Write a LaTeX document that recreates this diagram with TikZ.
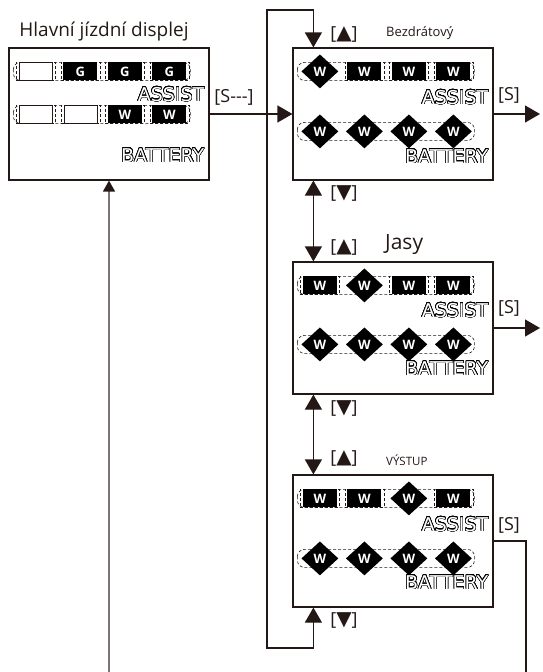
\documentclass[tikz,border=0pt]{standalone}
\usepackage{fontspec}
\setmainfont{Open Sans}
\newfontfamily\symfont{DejaVu Sans}
\newfontfamily\lcdfont{DejaVu Sans}
\usepackage{contour}
\usepackage{tikz}
\usetikzlibrary{arrows.meta,shapes.geometric}
\contourlength{0.55pt}
\contournumber{24}
\definecolor{ink}{HTML}{231815}

% one row of segments: state/label pairs (o = off, g/w = on, d = blinking)
\newcommand{\segrow}[2]{%
  \draw[row_dash] (5,#1-9) rectangle (182,#1+9);
  \foreach \st/\lbl [count=\i] in {#2} {
    \node[slot_\st] at (27.5+44.5*\i-44.5,#1) {};
    \node[seg_\st] at (27.5+44.5*\i-44.5,#1) {\lbl};
  }}
\newcommand{\keyup}{[{\symfont\fontsize{20}{20}\selectfont ▲}]}
\newcommand{\keydn}{[{\symfont\fontsize{20}{20}\selectfont ▼}]}

\begin{document}
\begin{tikzpicture}[x=1pt, y=-1pt, line join=miter]
    \tikzstyle{disp_box} = [rectangle, draw=ink, line width=1.2pt, fill=white, minimum width=200pt, minimum height=132pt, inner sep=0]
    \tikzstyle{row_dash} = [draw=ink, dash pattern=on 3pt off 2pt, line width=0.6pt, rounded corners=7pt]
    \tikzstyle{slot_dash} = [draw=ink, dash pattern=on 3pt off 2pt, line width=0.5pt, minimum width=39pt, minimum height=18pt, inner sep=0]
    \tikzstyle{slot_o} = [slot_dash]
    \tikzstyle{slot_g} = [slot_dash]
    \tikzstyle{slot_w} = [slot_dash]
    \tikzstyle{slot_d} = []
    \tikzstyle{seg_o} = [draw=ink, fill=white, line width=0.8pt, minimum width=33pt, minimum height=18pt, inner sep=0]
    \tikzstyle{seg_g} = [fill=black, text=white, font=\bfseries\fontsize{13}{13}\selectfont, minimum width=34pt, minimum height=18pt, inner sep=0]
    \tikzstyle{seg_w} = [seg_g]
    \tikzstyle{seg_d} = [diamond, fill=black, text=white, font=\bfseries\fontsize{13}{13}\selectfont, minimum width=37pt, minimum height=34pt, inner sep=0]
    \tikzstyle{lcd_word} = [anchor=east, inner sep=0, text=white, font=\lcdfont\fontsize{19}{19}\selectfont]
    \tikzstyle{key_lbl} = [text=ink, inner sep=0, font=\fontsize{18}{18}\selectfont]
    \tikzstyle{title_lbl} = [text=ink, inner sep=0]
    \tikzstyle{flow_edge} = [draw=ink, line width=1.2pt, -{Triangle[length=15pt,width=17pt]}]
    \tikzstyle{both_edge} = [draw=ink, line width=1.2pt, {Triangle[length=15pt,width=17pt]}-{Triangle[length=15pt,width=17pt]}]
    \tikzstyle{plain_edge} = [draw=ink, line width=1.2pt]
    \tikzstyle{back_edge} = [draw=ink!60, line width=1.5pt, -{Triangle[length=11pt,width=12pt,color=ink]}]

    \useasboundingbox (0,0) rectangle (542,672);

    % display boxes
    \node[disp_box] (main) at (109,114) {};
    \node[disp_box] (bezd) at (393,114) {};
    \node[disp_box] (jasy) at (393,328) {};
    \node[disp_box] (vystup) at (393,541) {};

    \node[title_lbl, font=\fontsize{19}{19}\selectfont] (t_main) at (104,32) {Hlavní jízdní displej};
    \node[title_lbl, anchor=west, font=\fontsize{13}{13}\selectfont] (t_bezd) at (386,33) {Bezdrátový};
    \node[title_lbl, anchor=west, font=\fontsize{21}{21}\selectfont] (t_jasy) at (385,245) {Jasy};
    \node[title_lbl, anchor=west, font=\fontsize{11.5}{11.5}\selectfont] (t_vystup) at (386,460) {VÝSTUP};

    % display contents
    \begin{scope}[shift={(main.north west)}]
        \segrow{24}{o/,g/G,g/G,g/G}
        \segrow{67}{o/,o/,w/W,w/W}
        \node[lcd_word] (as_main) at (196,47) {\contour{black}{ASSIST}};
        \node[lcd_word] (ba_main) at (196,108) {\contour{black}{BATTERY}};
    \end{scope}
    \begin{scope}[shift={(bezd.north west)}]
        \segrow{24}{d/W,w/W,w/W,w/W}
        \segrow{84}{d/W,d/W,d/W,d/W}
        \node[lcd_word] (as_bezd) at (196,50) {\contour{black}{ASSIST}};
        \node[lcd_word] (ba_bezd) at (196,109) {\contour{black}{BATTERY}};
    \end{scope}
    \begin{scope}[shift={(jasy.north west)}]
        \segrow{24}{w/W,d/W,w/W,w/W}
        \segrow{83}{d/W,d/W,d/W,d/W}
        \node[lcd_word] (as_jasy) at (196,49) {\contour{black}{ASSIST}};
        \node[lcd_word] (ba_jasy) at (196,107) {\contour{black}{BATTERY}};
    \end{scope}
    \begin{scope}[shift={(vystup.north west)}]
        \segrow{24}{w/W,w/W,d/W,w/W}
        \segrow{84}{d/W,d/W,d/W,d/W}
        \node[lcd_word] (as_vystup) at (196,50) {\contour{black}{ASSIST}};
        \node[lcd_word] (ba_vystup) at (196,108) {\contour{black}{BATTERY}};
    \end{scope}

    % key labels
    \node[key_lbl] (up_bezd) at (344,34) {\keyup};
    \node[key_lbl] (dn_bezd) at (344,193) {\keydn};
    \node[key_lbl] (up_jasy) at (344,247) {\keyup};
    \node[key_lbl] (dn_jasy) at (344,408) {\keydn};
    \node[key_lbl] (up_vystup) at (344,458) {\keyup};
    \node[key_lbl] (dn_vystup) at (344,620) {\keydn};
    \node[key_lbl] (s_main) at (234,97) {[S{-}{-}{-}]};
    \node[key_lbl] (s_bezd) at (509,95) {[S]};
    \node[key_lbl] (s_jasy) at (509,308) {[S]};
    \node[key_lbl] (s_vystup) at (509,525) {[S]};

    % connectors
    \coordinate (loop_top) at (267,10);
    \coordinate (loop_bot) at (267,648);
    \coordinate (s1_end) at (540,114);
    \coordinate (s2_end) at (540,328);
    \coordinate (exit_r) at (526,672);
    \coordinate (exit_l) at (109,672);

    \draw[flow_edge] (main) -- (bezd);
    \draw[both_edge] ([xshift=21pt]vystup.south west) |- (loop_bot) -- (loop_top) -| ([xshift=21pt]bezd.north west);
    \draw[both_edge] ([xshift=21pt]bezd.south west) -- ([xshift=21pt]jasy.north west);
    \draw[both_edge] ([xshift=21pt]jasy.south west) -- ([xshift=21pt]vystup.north west);
    \draw[flow_edge] (bezd) -- (s1_end);
    \draw[flow_edge] (jasy) -- (s2_end);
    \draw[plain_edge] (vystup.east) -| (exit_r);
    \draw[back_edge] (exit_l) -- (main.south);
\end{tikzpicture}
\end{document}
